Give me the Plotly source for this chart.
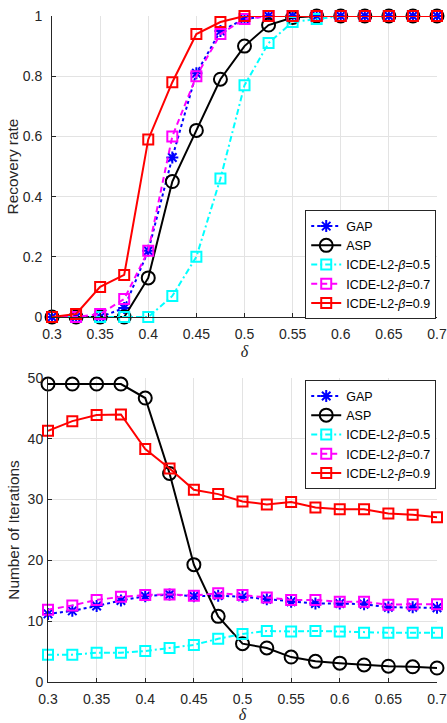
import plotly.graph_objects as go

delta = [0.3, 0.325, 0.35, 0.375, 0.4, 0.425, 0.45, 0.475, 0.5, 0.525, 0.55,
         0.575, 0.6, 0.625, 0.65, 0.675, 0.7]

# Recovery rate
rr_gap = [0, 0, 0, 0.03, 0.22, 0.53, 0.81, 0.95, 0.99, 1.0, 1, 1, 1, 1, 1, 1, 1]
rr_asp = [0, 0, 0, 0, 0.13, 0.45, 0.62, 0.79, 0.90, 0.97, 0.995, 1, 1, 1, 1, 1, 1]
rr_b05 = [0, 0, 0, 0, 0, 0.07, 0.20, 0.46, 0.77, 0.91, 0.98, 0.99, 1, 1, 1, 1, 1]
rr_b07 = [0, 0, 0.01, 0.06, 0.22, 0.60, 0.80, 0.94, 0.99, 1, 1, 1, 1, 1, 1, 1, 1]
rr_b09 = [0, 0.01, 0.10, 0.14, 0.59, 0.78, 0.94, 0.98, 1, 1, 1, 1, 1, 1, 1, 1, 1]

# Number of iterations
it_gap = [11.2, 11.7, 12.5, 13.4, 14.1, 14.4, 14.1, 14.2, 14.0, 13.6, 13.2, 12.9, 12.9, 12.8, 12.3, 12.3, 12.2]
it_asp = [49.0, 49.0, 49.0, 49.0, 46.7, 34.3, 19.3, 10.8, 6.3, 5.6, 4.1, 3.4, 3.1, 2.8, 2.6, 2.5, 2.3]
it_b05 = [4.5, 4.5, 4.8, 4.8, 5.1, 5.6, 6.1, 7.1, 7.9, 8.4, 8.3, 8.4, 8.3, 8.1, 8.1, 8.1, 8.1]
it_b07 = [11.9, 12.6, 13.5, 14.0, 14.3, 14.4, 14.2, 14.6, 14.3, 13.9, 13.5, 13.5, 13.2, 13.2, 12.7, 12.8, 12.8]
it_b09 = [41.3, 42.9, 43.9, 44.0, 38.3, 35.1, 31.6, 30.9, 29.7, 29.2, 29.6, 28.7, 28.4, 28.4, 27.7, 27.5, 27.1]

names = ["GAP", "ASP", "ICDE-L2-<i>β</i>=0.5", "ICDE-L2-<i>β</i>=0.7", "ICDE-L2-<i>β</i>=0.9"]
colors = ["#0000ff", "#000000", "#00ffff", "#ff00ff", "#ff0000"]
dashes = ["dot", "solid", "6px,3px,2px,3px", "6px,4px", "solid"]
symbols = ["asterisk-open", "circle-open", "square-open", "square-open", "square-open"]
msizes = [10, 13, 10, 10, 10]

fig = go.Figure()

top = [rr_gap, rr_asp, rr_b05, rr_b07, rr_b09]
bot = [it_gap, it_asp, it_b05, it_b07, it_b09]

for i in range(5):
    fig.add_trace(go.Scatter(
        x=delta, y=top[i], name=names[i], mode="lines+markers",
        line=dict(color=colors[i], width=2, dash=dashes[i]),
        marker=dict(symbol=symbols[i], size=msizes[i], color=colors[i],
                    line=dict(color=colors[i], width=2)),
        cliponaxis=False, xaxis="x", yaxis="y", legend="legend"))
for i in range(5):
    fig.add_trace(go.Scatter(
        x=delta, y=bot[i], name=names[i], mode="lines+markers",
        line=dict(color=colors[i], width=2, dash=dashes[i]),
        marker=dict(symbol=symbols[i], size=msizes[i], color=colors[i],
                    line=dict(color=colors[i], width=2)),
        cliponaxis=False, xaxis="x2", yaxis="y2", legend="legend2"))

axcol = "#262626"
font = "Liberation Sans, Arial, Helvetica, sans-serif"
common_x = dict(range=[0.3, 0.7], tickvals=[0.3, 0.35, 0.4, 0.45, 0.5, 0.55, 0.6, 0.65, 0.7],
                ticktext=["0.3", "0.35", "0.4", "0.45", "0.5", "0.55", "0.6", "0.65", "0.7"],
                showgrid=True, gridcolor="#e3e3e3", gridwidth=1, zeroline=False,
                showline=True, linecolor=axcol, linewidth=1, ticks="inside", ticklen=4,
                tickcolor=axcol, tickfont=dict(size=14, color=axcol, family=font),
                automargin=False, ticklabelstandoff=4,
                title=dict(text="<i>δ</i>", font=dict(size=16, color=axcol, family="Liberation Serif, serif"), standoff=4))
common_y = dict(showgrid=True, gridcolor="#e3e3e3", gridwidth=1, zeroline=False,
                showline=True, linecolor=axcol, linewidth=1, ticks="inside", ticklen=4,
                tickcolor=axcol, tickfont=dict(size=14, color=axcol, family=font),
                automargin=False)

leg = dict(bgcolor="white", bordercolor="#262626", borderwidth=1,
           font=dict(size=12.5, color="#000000", family=font), itemwidth=30,
           tracegroupgap=0)

fig.update_layout(
    width=447, height=723,
    margin=dict(l=48, r=10, t=16, b=41, autoexpand=False),
    paper_bgcolor="white", plot_bgcolor="white",
    font=dict(family=font, color=axcol),
    xaxis=dict(domain=[0.0103, 1.0], anchor="y", **common_x),
    yaxis=dict(domain=[0.548, 1.0], anchor="x", range=[0, 1],
               tickvals=[0, 0.2, 0.4, 0.6, 0.8, 1], ticktext=["0", "0.2", "0.4", "0.6", "0.8", "1"],
               ticklabelstandoff=6,
               title=dict(text="Recovery rate", font=dict(size=15.4, color=axcol, family=font), standoff=0),
               **common_y),
    xaxis2=dict(domain=[0.0, 1.0], anchor="y2", **common_x),
    yaxis2=dict(domain=[0.0, 0.4565], anchor="x2", range=[0, 50],
                tickvals=[0, 10, 20, 30, 40, 50],
                ticklabelstandoff=1,
                title=dict(text="Number of Iterations", font=dict(size=15.4, color=axcol, family=font), standoff=4),
                **common_y),
    legend=dict(x=0.998, xanchor="right", y=0.708, yanchor="top", **leg),
    legend2=dict(x=0.998, xanchor="right", y=0.453, yanchor="top", **leg),
    showlegend=True,
)

fig.write_html("out.html", config={"displayModeBar": False},
               post_script="document.body.style.margin='0';document.body.style.overflow='hidden';")
